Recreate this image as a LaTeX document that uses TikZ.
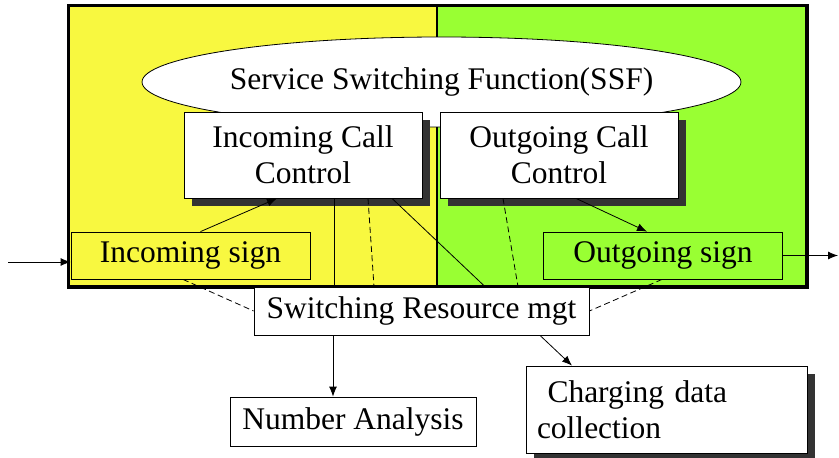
\documentclass[tikz,border=0pt]{standalone}
\usepackage{fontspec}
\setmainfont{Liberation Serif}
\usetikzlibrary{arrows.meta,shapes.geometric,shadows}
\definecolor{ssfyellow}{RGB}{248,248,64}
\definecolor{ssfgreen}{RGB}{153,255,51}
\begin{document}
\begin{tikzpicture}[x=1pt, y=-1pt, line width=0.8pt,
  font=\fontsize{31.5}{36}\selectfont, >={Latex[length=10pt,width=8pt]},
  part/.style={draw, line width=2pt, inner sep=0pt},
  box/.style={draw, fill=white, inner sep=0pt, align=center},
  shadowed/.style={box, drop shadow={shadow xshift=8pt, shadow yshift=-8pt, fill=black!80, opacity=1}},
  sign/.style={draw, inner sep=0pt, minimum width=239pt, minimum height=47pt},
  dashline/.style={dash pattern=on 6pt off 3.5pt}]
\useasboundingbox (0,0) rectangle (839,458);
% the two halves of the switch
\node[part, fill=ssfyellow, minimum width=368pt, minimum height=280pt] (inpart) at (253,146) {};
\node[part, fill=ssfgreen, minimum width=369pt, minimum height=280pt] (outpart) at (621.5,146) {};
\draw[line width=3pt] (inpart.north west) rectangle (outpart.south east);
\node[ellipse, draw, fill=white, inner sep=0pt, minimum width=451pt, minimum height=90pt] (ssf) at (441.5,82) {Service Switching Function(SSF)};
\node[shadowed, minimum width=238pt, minimum height=86pt] (icc) at (303,155) {Incoming Call\\Control};
\node[shadowed, minimum width=238pt, minimum height=86pt] (occ) at (559,155) {Outgoing Call\\Control};
\node[sign, fill=ssfyellow] (insign) at (190.5,255.5) {Incoming sign};
\node[sign, fill=ssfgreen] (outsign) at (663,255.5) {Outgoing sign};
\node[box, minimum width=335pt, minimum height=48pt] (srm) at (421.5,311) {Switching Resource mgt};
\node[box, minimum width=246pt, minimum height=49pt] (numan) at (353,421.5) {Number Analysis};
\node[shadowed, minimum width=281pt, minimum height=87pt, text width=259pt, align=left] (charge) at (666.5,409.5) {\ Charging data\\collection};
\coordinate (src) at (8,262);
\coordinate (dst) at (838,255.5);
% signalling
\draw[->] (src) -- (src -| insign.west);
\draw[->] (outsign.east) -- (dst);
\draw[->] ([xshift=10pt]insign.north) -- ([xshift=-26pt]icc.south);
\draw[->] ([xshift=17pt]occ.south) -- ([xshift=-16pt]outsign.north);
% resource links
\draw ([xshift=31pt]icc.south) -- ([xshift=-87.5pt]srm.north);
\draw[dashline] ([xshift=65pt]icc.south) -- ([xshift=-47.5pt]srm.north);
\draw ([xshift=89pt]icc.south) -- ([xshift=63.5pt]srm.north);
\draw[dashline] ([xshift=-56pt]occ.south) -- ([xshift=96.5pt]srm.north);
\draw[dashline] ([xshift=-7.5pt]insign.south) -- (srm.west);
\draw[dashline] ([xshift=-1pt]outsign.south) -- (srm.east);
\draw[->] ([xshift=-88.5pt]srm.south) -- ([xshift=-20pt]numan.north);
\draw[->] ([xshift=118.5pt]srm.south) -- ([xshift=-94.5pt]charge.north);
\end{tikzpicture}
\end{document}
